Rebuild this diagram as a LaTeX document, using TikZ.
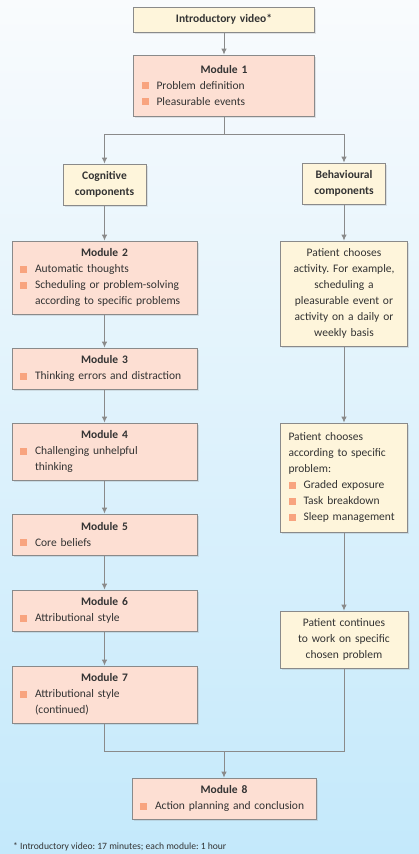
\documentclass[tikz,border=0pt]{standalone}
\usepackage{fontspec}
\setmainfont{Carlito}
\usetikzlibrary{arrows.meta,shadows}
\definecolor{bgtop}{HTML}{F9FBFD}
\definecolor{bgmid}{HTML}{DDF0FA}
\definecolor{bgbot}{HTML}{C4E9FB}
\definecolor{modfill}{HTML}{FDDFD3}
\definecolor{notefill}{HTML}{FEF5DB}
\definecolor{bullet}{HTML}{F8A47F}
\definecolor{edge}{HTML}{8A8A8A}
\definecolor{ink}{HTML}{333333}
\newcommand{\bul}{\makebox[15pt][l]{\textcolor{bullet}{\rule{7pt}{7pt}}}}
\newcommand{\ind}{\hspace*{15pt}}
\newcommand{\head}[1]{\makebox[\linewidth][c]{\bfseries #1}}
\frenchspacing

\begin{document}
\begin{tikzpicture}[x=1pt,y=-1pt,
  box/.style={draw=edge, line width=0.8pt, text=ink, inner xsep=8pt, inner ysep=0pt,
    font=\fontsize{11.5}{16}\selectfont,
    drop shadow={opacity=0.2, shadow xshift=1.5pt, shadow yshift=-1.5pt}},
  module/.style={box, fill=modfill, align=left},
  note/.style={box, fill=notefill, align=center},
  flow/.style={draw=edge, line width=0.9pt},
  >={Latex[length=6pt,width=5.5pt]}]
  \shade[top color=bgtop, middle color=bgmid, bottom color=bgbot] (0,0) rectangle (419,854);

  \node[note, text width=165pt, minimum width=181pt, minimum height=25pt] (intro) at (224,19.5) {\bfseries Introductory video*};
  \node[module, text width=165pt, minimum width=181pt, minimum height=61pt] (m1) at (224,85.5)
    {\head{Module 1}\\ \bul Problem definition\\ \bul Pleasurable events};

  \node[note, text width=67pt, minimum width=83pt, minimum height=41pt] (cog) at (104.5,184.5) {\bfseries Cognitive\\ \bfseries components};
  \node[note, text width=67pt, minimum width=83pt, minimum height=41pt] (beh) at (344,183.5) {\bfseries Behavioural\\ \bfseries components};

  \node[module, text width=169pt, minimum width=185pt, minimum height=73pt] (m2) at (104.5,277.5)
    {\head{Module 2}\\ \bul Automatic thoughts\\ \bul Scheduling or problem-solving\\ \ind according to specific problems};
  \node[module, text width=169pt, minimum width=185pt, minimum height=41pt] (m3) at (104.5,368.5)
    {\head{Module 3}\\ \bul Thinking errors and distraction};
  \node[module, text width=169pt, minimum width=185pt, minimum height=57pt] (m4) at (104.5,451.5)
    {\head{Module 4}\\ \bul Challenging unhelpful\\ \ind thinking};
  \node[module, text width=169pt, minimum width=185pt, minimum height=41pt] (m5) at (104.5,534.5)
    {\head{Module 5}\\ \bul Core beliefs};
  \node[module, text width=169pt, minimum width=185pt, minimum height=41pt] (m6) at (104.5,610.5)
    {\head{Module 6}\\ \bul Attributional style};
  \node[module, text width=169pt, minimum width=185pt, minimum height=57pt] (m7) at (104.5,694.5)
    {\head{Module 7}\\ \bul Attributional style\\ \ind (continued)};

  \node[note, text width=111pt, minimum width=127pt, minimum height=105pt] (act) at (344,293.5)
    {Patient chooses\\ activity. For example,\\ scheduling a\\ pleasurable event or\\ activity on a daily or\\ weekly basis};
  \node[note, align=left, text width=111pt, minimum width=127pt, minimum height=109pt] (choose) at (344,477.5)
    {Patient chooses\\ according to specific\\ problem:\\ \bul Graded exposure\\ \bul Task breakdown\\ \bul Sleep management};
  \node[note, text width=112pt, minimum width=128pt, minimum height=57pt] (cont) at (344,639.5)
    {Patient continues\\ to work on specific\\ chosen problem};

  \node[module, text width=168pt, minimum width=184pt, minimum height=41pt] (m8) at (224,798.5)
    {\head{Module 8}\\ \bul Action planning and conclusion};

  \node[anchor=west, text=ink, font=\fontsize{9.6}{11}\selectfont, inner sep=0pt] (foot) at (13,847)
    {* Introductory video: 17 minutes; each module: 1 hour};

  \coordinate (split) at (224,134);
  \coordinate (merge) at (224,751);
  \draw[flow,->] (intro) -- (m1);
  \draw[flow] (m1) -- (split);
  \draw[flow,->] (split) -| (cog);
  \draw[flow,->] (split) -| (beh);
  \draw[flow,->] (cog) -- (m2);
  \draw[flow,->] (m2) -- (m3);
  \draw[flow,->] (m3) -- (m4);
  \draw[flow,->] (m4) -- (m5);
  \draw[flow,->] (m5) -- (m6);
  \draw[flow,->] (m6) -- (m7);
  \draw[flow,->] (beh) -- (act);
  \draw[flow,->] (act) -- (choose);
  \draw[flow,->] (choose) -- (cont);
  \draw[flow] (m7) |- (merge) -| (cont);
  \draw[flow,->] (merge) -- (m8);
\end{tikzpicture}
\end{document}
